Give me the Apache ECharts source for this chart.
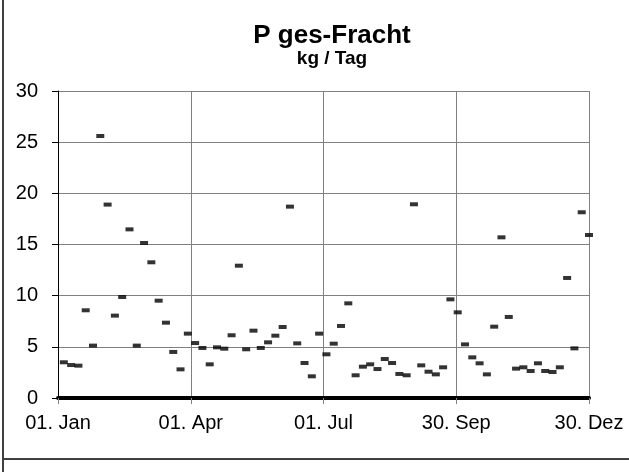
<!DOCTYPE html>
<html>
<head>
<meta charset="utf-8">
<script src="https://cdn.jsdelivr.net/npm/echarts@6/dist/echarts.min.js"></script>
<style>
html,body{margin:0;padding:0;background:#fff;}
#chart{width:629px;height:472px;}
</style>
</head>
<body>
<div id="chart"></div>
<script>
// Day of year (0 = 01. Jan) for each sample
var sampleDays = [4, 9, 14, 19, 24, 29, 34, 39, 44, 49, 54, 59, 64, 69, 74, 79, 84, 89, 94, 99,
  104, 109, 114, 119, 124, 129, 134, 139, 144, 149, 154, 159, 164, 169, 174, 179, 184, 189, 194, 199,
  204, 209, 214, 219, 224, 229, 234, 239, 244, 249, 254, 259, 264, 269, 274, 279, 284, 289, 294, 299,
  304, 309, 314, 319, 324, 329, 334, 339, 344, 349, 354, 359, 364];
// P ges-Fracht, kg / Tag
var pFracht = [3.49, 3.22, 3.16, 8.57, 5.12, 25.6, 18.9, 8.05, 9.87, 16.48, 5.12, 15.15, 13.26, 9.51, 7.36, 4.5, 2.8, 6.29, 5.37, 4.89,
  3.29, 4.95, 4.82, 6.13, 12.93, 4.76, 6.58, 4.89, 5.44, 6.09, 6.94, 18.7, 5.34, 3.42, 2.12, 6.29, 4.27, 5.31, 7.04, 9.25,
  2.22, 3.06, 3.29, 2.83, 3.81, 3.42, 2.35, 2.22, 18.93, 3.19, 2.57, 2.31, 3.0, 9.64, 8.37, 5.24, 3.97, 3.39, 2.31, 6.97,
  15.7, 7.92, 2.87, 3.0, 2.64, 3.39, 2.64, 2.54, 3.0, 11.73, 4.85, 18.15, 15.93];
var xTickLabels = ['01. Jan', '01. Apr', '01. Jul', '30. Sep', '30. Dez'];
var xTickStep = 91;
var yMax = 30;
var yStep = 5;

var points = sampleDays.map(function (d, i) { return [d, pFracht[i]]; });

var chart = echarts.init(document.getElementById('chart'));
var font = '"Liberation Sans", Arial, sans-serif';
chart.setOption({
  animation: false,
  backgroundColor: '#ffffff',
  title: [
    { text: 'P ges-Fracht', left: 327, top: 18, textAlign: 'center',
      textStyle: { fontFamily: font, fontSize: 26, fontWeight: 'bold', color: '#000' } },
    { text: 'kg / Tag', left: 327, top: 44, textAlign: 'center',
      textStyle: { fontFamily: font, fontSize: 19, fontWeight: 'bold', color: '#000' } }
  ],
  graphic: [
    { type: 'line', shape: { x1: 3, y1: 0, x2: 3, y2: 472 }, style: { stroke: '#404040', lineWidth: 2 } },
    { type: 'line', shape: { x1: 3, y1: 459, x2: 629, y2: 459 }, style: { stroke: '#404040', lineWidth: 2 } }
  ],
  grid: { left: 58, right: 40, top: 91, bottom: 74 },
  xAxis: {
    type: 'value', min: 0, max: xTickStep * (xTickLabels.length - 1), interval: xTickStep,
    axisLine: { show: true, lineStyle: { color: '#000', width: 4 } },
    axisTick: { show: true, length: 6, lineStyle: { color: '#808080', width: 1 } },
    axisLabel: { margin: 15, fontFamily: font, fontSize: 20, color: '#000',
      formatter: function (v) { return xTickLabels[Math.round(v / xTickStep)]; } },
    splitLine: { show: true, lineStyle: { color: '#808080', width: 1 } }
  },
  yAxis: {
    type: 'value', min: 0, max: yMax, interval: yStep,
    axisLine: { show: true, lineStyle: { color: '#000', width: 1 } },
    axisTick: { show: true, length: 6, lineStyle: { color: '#000', width: 1 } },
    axisLabel: { margin: 20, fontFamily: font, fontSize: 20, color: '#000' },
    splitLine: { show: true, lineStyle: { color: '#808080', width: 1 } }
  },
  series: [{
    type: 'scatter',
    data: points,
    symbol: 'rect',
    symbolSize: [8, 4],
    itemStyle: { color: '#000' }
  }]
});
</script>
</body>
</html>
